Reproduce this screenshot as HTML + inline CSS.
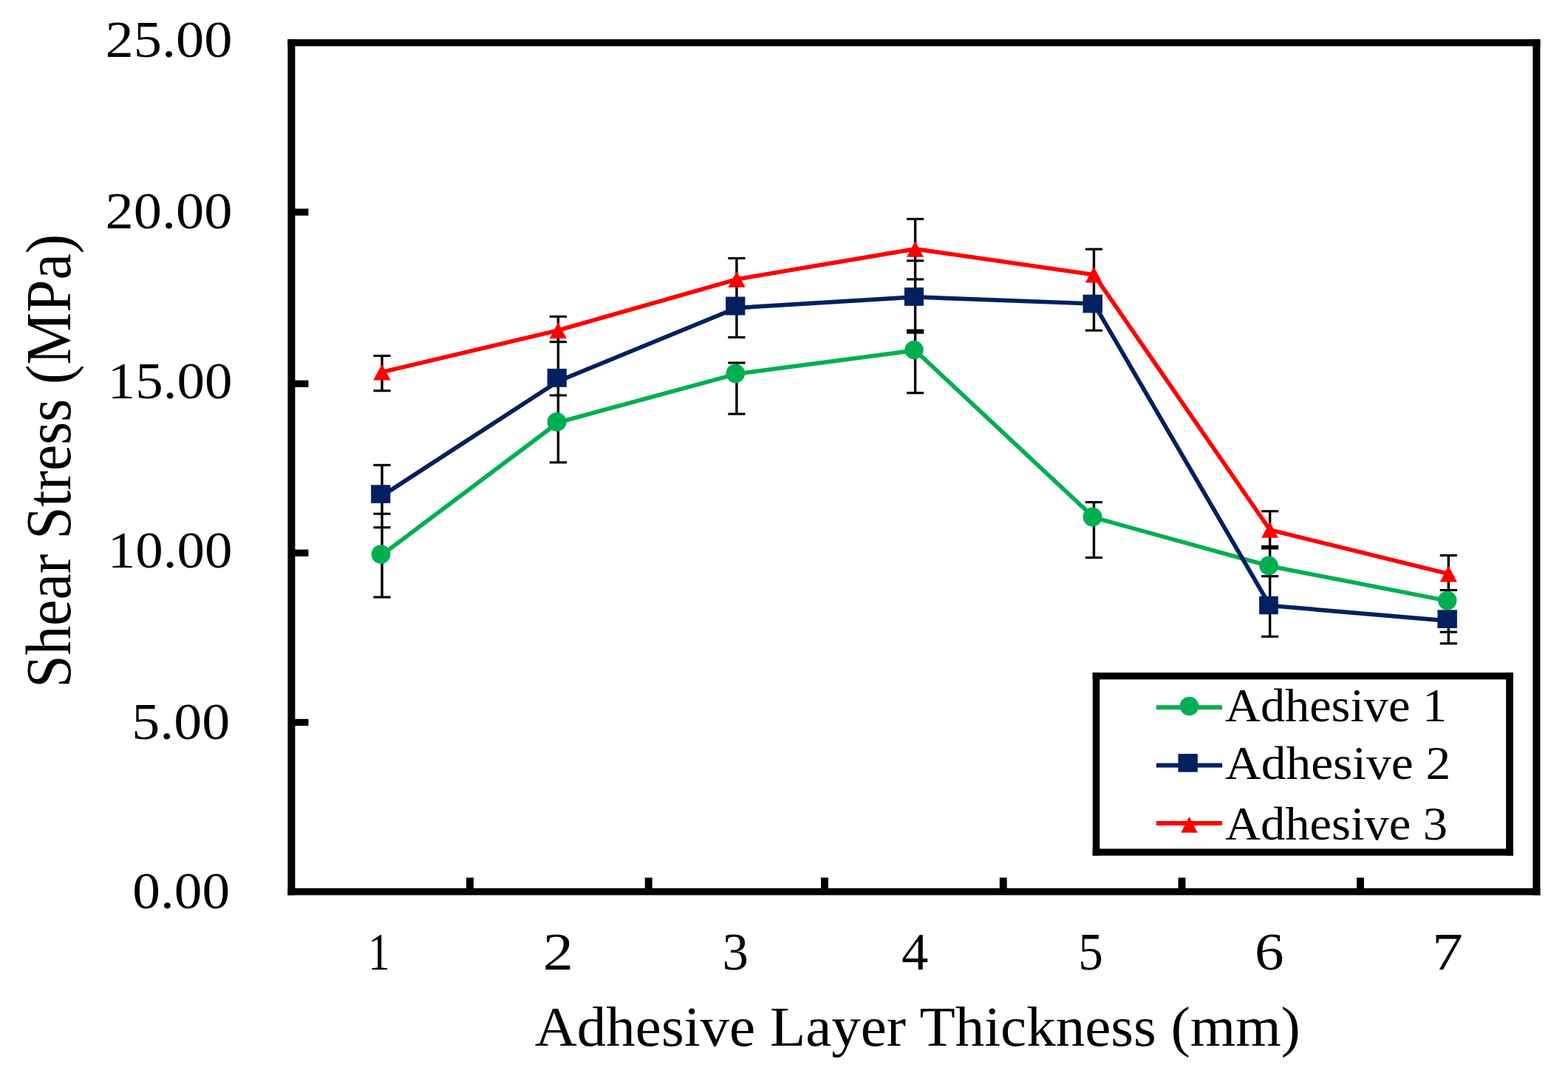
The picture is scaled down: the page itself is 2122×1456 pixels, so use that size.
<!DOCTYPE html>
<html><head><meta charset="utf-8"><title>Shear Stress vs Adhesive Layer Thickness</title>
<style>
html,body{margin:0;padding:0;background:#fff;}
body{width:2122px;height:1456px;overflow:hidden;}
svg{display:block;}
text{font-family:"Liberation Serif","Times New Roman",serif;fill:#000;}
</style></head><body>
<svg width="2122" height="1456" viewBox="0 0 2122 1456">
<rect width="2122" height="1456" fill="#fff"/>
<g fill="#000"><rect x="515.3" y="481.5" width="3.4" height="47.2"/><rect x="515.3" y="629.3" width="3.4" height="178.7"/><rect x="505.4" y="479.9" width="23.2" height="3.1"/><rect x="505.4" y="527.2" width="23.2" height="3.1"/><rect x="505.4" y="627.8" width="23.2" height="3.1"/><rect x="505.4" y="693.7" width="23.2" height="3.1"/><rect x="505.4" y="712.2" width="23.2" height="3.1"/><rect x="505.4" y="806.5" width="23.2" height="3.1"/><rect x="753.7" y="428.3" width="3.4" height="197.5"/><rect x="743.8" y="426.8" width="23.2" height="3.1"/><rect x="743.8" y="461.1" width="23.2" height="3.1"/><rect x="743.8" y="533.4" width="23.2" height="3.1"/><rect x="743.8" y="624.2" width="23.2" height="3.1"/><rect x="995.2" y="349.5" width="3.4" height="107.0"/><rect x="995.2" y="491.0" width="3.4" height="69.1"/><rect x="985.3" y="347.9" width="23.2" height="3.1"/><rect x="985.3" y="454.9" width="23.2" height="3.1"/><rect x="985.3" y="489.4" width="23.2" height="3.1"/><rect x="985.3" y="558.6" width="23.2" height="3.1"/><rect x="1236.9" y="296.4" width="3.4" height="235.4"/><rect x="1227.0" y="294.8" width="23.2" height="3.1"/><rect x="1227.0" y="351.3" width="23.2" height="3.1"/><rect x="1227.0" y="376.4" width="23.2" height="3.1"/><rect x="1227.0" y="445.5" width="23.2" height="6.2"/><rect x="1227.0" y="530.2" width="23.2" height="3.1"/><rect x="1478.7" y="337.2" width="3.4" height="110.0"/><rect x="1478.7" y="679.5" width="3.4" height="75.0"/><rect x="1468.8" y="335.6" width="23.2" height="3.1"/><rect x="1468.8" y="445.6" width="23.2" height="3.1"/><rect x="1468.8" y="678.0" width="23.2" height="3.1"/><rect x="1468.8" y="753.0" width="23.2" height="3.1"/><rect x="1716.9" y="691.8" width="3.4" height="169.5"/><rect x="1707.0" y="690.2" width="23.2" height="3.1"/><rect x="1707.0" y="737.8" width="23.2" height="5.7"/><rect x="1707.0" y="778.2" width="23.2" height="3.1"/><rect x="1707.0" y="859.8" width="23.2" height="3.1"/><rect x="1958.6" y="751.5" width="3.4" height="119.2"/><rect x="1948.7" y="750.0" width="23.2" height="3.1"/><rect x="1948.7" y="797.0" width="23.2" height="3.1"/><rect x="1948.7" y="853.7" width="23.2" height="3.1"/><rect x="1948.7" y="869.2" width="23.2" height="3.1"/></g>
<polyline points="517.0,750.8 755.4,571.6 996.9,506.0 1238.6,474.2 1480.4,700.3 1718.6,766.1 1960.3,813.3" fill="none" stroke="#00B050" stroke-width="5.7" stroke-linejoin="round"/>
<circle cx="515.5" cy="750.1" r="12.9" fill="#00B050"/>
<circle cx="753.5" cy="570.9" r="13.0" fill="#00B050"/>
<circle cx="995.3" cy="505.3" r="12.9" fill="#00B050"/>
<circle cx="1237.0" cy="473.5" r="12.7" fill="#00B050"/>
<circle cx="1478.5" cy="699.6" r="13.0" fill="#00B050"/>
<circle cx="1717.0" cy="765.4" r="12.8" fill="#00B050"/>
<circle cx="1958.7" cy="812.6" r="12.8" fill="#00B050"/>
<polyline points="517.0,671.0 755.4,515.8 996.9,416.6 1238.6,401.9 1480.4,411.0 1718.6,819.5 1960.3,840.1" fill="none" stroke="#002060" stroke-width="5.7" stroke-linejoin="round"/>
<rect x="502.1" y="656.2" width="26.2" height="24.7" fill="#002060"/>
<rect x="740.6" y="498.9" width="26.2" height="24.9" fill="#002060"/>
<rect x="982.1" y="401.6" width="26.3" height="24.9" fill="#002060"/>
<rect x="1223.9" y="389.1" width="26.1" height="24.7" fill="#002060"/>
<rect x="1465.5" y="398.7" width="26.4" height="24.7" fill="#002060"/>
<rect x="1704.1" y="806.8" width="25.7" height="24.5" fill="#002060"/>
<rect x="1945.4" y="825.3" width="26.5" height="24.7" fill="#002060"/>
<polyline points="517.0,503.6 755.4,446.9 996.9,377.9 1238.6,336.9 1480.4,371.7 1718.6,717.0 1960.3,776.5" fill="none" stroke="#FF0000" stroke-width="5.7" stroke-linejoin="round"/>
<polygon points="516.9,492.8 528.7,514.5 505.1,514.5" fill="#FF0000"/>
<polygon points="755.3,436.0 766.8,457.9 743.9,457.9" fill="#FF0000"/>
<polygon points="997.0,367.0 1008.6,388.8 985.3,388.8" fill="#FF0000"/>
<polygon points="1238.5,326.2 1249.9,347.7 1227.0,347.7" fill="#FF0000"/>
<polygon points="1480.3,360.9 1491.9,382.5 1468.8,382.5" fill="#FF0000"/>
<polygon points="1718.6,706.1 1729.9,727.8 1707.2,727.8" fill="#FF0000"/>
<polygon points="1960.3,765.5 1971.9,787.5 1948.7,787.5" fill="#FF0000"/>
<g><rect x="389.4" y="53.1" width="10.0" height="1158.2" fill="#000"/><rect x="2074.3" y="53.1" width="10.1" height="1158.2" fill="#000"/><rect x="389.4" y="53.1" width="1695.0" height="9.4" fill="#000"/><rect x="389.4" y="1201.9" width="1695.0" height="9.4" fill="#000"/><rect x="399.0" y="282.4" width="18.4" height="9.3" fill="#000"/><rect x="399.0" y="514.6" width="18.4" height="9.3" fill="#000"/><rect x="399.0" y="743.6" width="18.4" height="9.3" fill="#000"/><rect x="399.0" y="972.9" width="18.4" height="9.3" fill="#000"/><rect x="631.0" y="1187.6" width="9.9" height="14.9" fill="#000"/><rect x="872.8" y="1187.6" width="9.9" height="14.9" fill="#000"/><rect x="1111.0" y="1187.6" width="9.9" height="14.9" fill="#000"/><rect x="1352.8" y="1187.6" width="9.9" height="14.9" fill="#000"/><rect x="1594.5" y="1187.6" width="9.9" height="14.9" fill="#000"/><rect x="1836.0" y="1187.6" width="9.9" height="14.9" fill="#000"/></g>
<rect x="1478.7" y="910.1" width="569.1" height="9.3" fill="#000"/><rect x="1478.7" y="1148.5" width="569.1" height="9.3" fill="#000"/><rect x="1478.7" y="910.1" width="9.6" height="247.7" fill="#000"/><rect x="2038.1" y="910.1" width="9.7" height="247.7" fill="#000"/>
<rect x="1564.8" y="954.2" width="89.2" height="6" fill="#00B050"/>
<circle cx="1609.4" cy="955.5" r="12.8" fill="#00B050"/>
<rect x="1564.8" y="1032.6" width="89.2" height="6" fill="#002060"/>
<rect x="1594.4" y="1020.1" width="26.4" height="24.6" fill="#002060"/>
<rect x="1564.8" y="1111.0" width="89.2" height="6" fill="#FF0000"/>
<polygon points="1609.4,1104.9 1620.7,1126.7 1598.1,1126.7" fill="#FF0000"/>
<text transform="translate(142.44 77.00) scale(1.0925 1)" font-size="70">25.00</text>
<text transform="translate(142.44 309.30) scale(1.0925 1)" font-size="70">20.00</text>
<text transform="translate(145.81 538.80) scale(1.0707 1)" font-size="70">15.00</text>
<text transform="translate(145.81 767.90) scale(1.0707 1)" font-size="70">10.00</text>
<text transform="translate(178.18 999.80) scale(1.0858 1)" font-size="70">5.00</text>
<text transform="translate(179.23 1228.80) scale(1.0771 1)" font-size="70">0.00</text>
<text transform="translate(497.88 1311.80) scale(0.8303 1)" font-size="71.5">1</text>
<text transform="translate(734.78 1311.80) scale(1.1513 1)" font-size="71.5">2</text>
<text transform="translate(977.41 1311.80) scale(0.9920 1)" font-size="71.5">3</text>
<text transform="translate(1219.98 1311.80) scale(1.0170 1)" font-size="71.5">4</text>
<text transform="translate(1459.21 1311.80) scale(0.9374 1)" font-size="71.5">5</text>
<text transform="translate(1698.00 1311.80) scale(1.1065 1)" font-size="71.5">6</text>
<text transform="translate(1937.99 1311.80) scale(1.1699 1)" font-size="71.5">7</text>
<text transform="translate(723.83 1415.30) scale(1.0327 1)" font-size="76.5">Adhesive Layer Thickness (mm)</text>
<text transform="translate(1658.05 975.80) scale(1.0608 1)" font-size="62.5">Adhesive 1</text>
<text transform="translate(1658.04 1054.20) scale(1.0786 1)" font-size="62.5">Adhesive 2</text>
<text transform="translate(1658.05 1135.80) scale(1.0640 1)" font-size="62.5">Adhesive 3</text>
<text transform="translate(95.00 930.82) rotate(-90) scale(0.9142 1)" font-size="87">Shear Stress (MPa)</text>
</svg>
</body></html>
